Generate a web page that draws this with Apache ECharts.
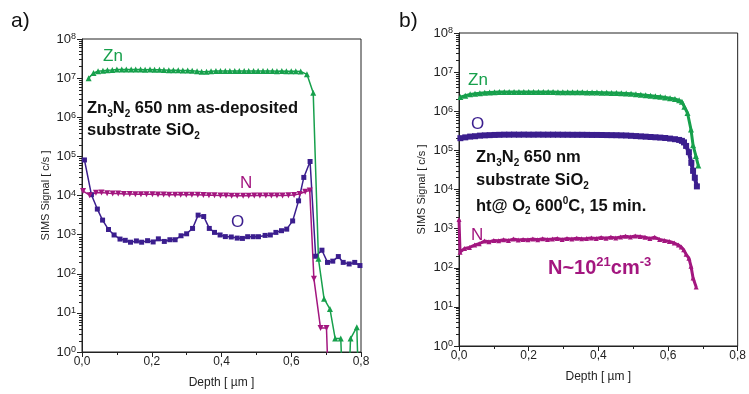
<!DOCTYPE html>
<html>
<head>
<meta charset="utf-8">
<script src="https://cdn.jsdelivr.net/npm/echarts@6/dist/echarts.min.js"></script>
<style>
  html, body { margin: 0; padding: 0; background: #fff; }
  #chart { width: 749px; height: 394px; }
</style>
</head>
<body>
<div id="chart"></div>
<script>
  // panel a) as-deposited : [depth um, signal c/s]
  var aZn = [[0.019,1.0e7],[0.033,1.35e7],[0.046,1.5e7],[0.060,1.55e7],[0.073,1.6e7],[0.087,1.62e7],[0.100,1.65e7],[0.114,1.65e7],
    [0.127,1.66e7],[0.141,1.65e7],[0.154,1.66e7],[0.168,1.65e7],[0.181,1.64e7],[0.195,1.65e7],[0.208,1.64e7],[0.222,1.63e7],
    [0.235,1.62e7],[0.249,1.6e7],[0.262,1.6e7],[0.276,1.58e7],[0.289,1.57e7],[0.303,1.56e7],[0.316,1.55e7],[0.330,1.5e7],
    [0.343,1.45e7],[0.357,1.45e7],[0.370,1.5e7],[0.384,1.52e7],[0.397,1.52e7],[0.411,1.53e7],[0.424,1.52e7],[0.438,1.53e7],
    [0.451,1.52e7],[0.465,1.52e7],[0.478,1.53e7],[0.492,1.52e7],[0.505,1.52e7],[0.519,1.51e7],[0.532,1.52e7],[0.546,1.51e7],
    [0.559,1.5e7],[0.573,1.51e7],[0.586,1.5e7],[0.600,1.5e7],[0.613,1.5e7],[0.627,1.48e7],[0.645,1.25e7],[0.663,4.2e6],
    [0.678,240],[0.694,23],[0.711,12.5],[0.726,2.2],[0.742,2.2],[0.756,0.001],[0.770,2.2],[0.788,4.3],[0.800,0.001]];
  var aO = [[0.007,8.1e4],[0.027,1.05e4],[0.044,4.5e3],[0.059,2.35e3],[0.076,1.35e3],[0.092,980],[0.109,770],[0.124,715],
    [0.139,640],[0.156,690],[0.171,640],[0.188,700],[0.204,650],[0.219,780],[0.236,670],[0.252,740],[0.267,740],[0.284,935],
    [0.300,1050],[0.317,1440],[0.333,3150],[0.349,2900],[0.365,1440],[0.380,1140],[0.396,980],[0.411,890],[0.428,870],
    [0.445,815],[0.460,800],[0.475,885],[0.491,885],[0.506,885],[0.525,955],[0.540,980],[0.556,1140],[0.572,1260],[0.587,1380],
    [0.604,2240],[0.621,7300],[0.636,2.9e4],[0.654,7.4e4],[0.670,280],[0.688,400],[0.704,195],[0.719,210],[0.735,275],
    [0.749,195],[0.766,178],[0.782,195],[0.797,162]];
  var aN = [[0.003,1.3e4],[0.022,1.02e4],[0.040,1.18e4],[0.056,1.2e4],[0.072,1.15e4],[0.088,1.12e4],[0.104,1.12e4],[0.120,1.1e4],
    [0.137,1.1e4],[0.153,1.08e4],[0.169,1.08e4],[0.185,1.07e4],[0.202,1.07e4],[0.218,1.06e4],[0.234,1.06e4],[0.250,1.05e4],
    [0.267,1.05e4],[0.283,1.05e4],[0.299,1.04e4],[0.315,1.04e4],[0.332,1.05e4],[0.348,1.03e4],[0.364,1.02e4],[0.380,1.01e4],
    [0.397,1.0e4],[0.413,1.0e4],[0.429,9.9e3],[0.445,9.9e3],[0.462,9.9e3],[0.478,9.9e3],[0.494,1.0e4],[0.510,1.0e4],
    [0.527,1.0e4],[0.543,1.0e4],[0.559,1.0e4],[0.575,1.0e4],[0.592,1.01e4],[0.608,1.03e4],[0.624,1.1e4],[0.640,1.25e4],
    [0.653,1.35e4],[0.665,74],[0.684,4.1],[0.701,4.1],[0.715,0.001]];

  // panel b) after ht in O2 600C
  var bZn = [[0.004,2.3e6],[0.018,2.5e6],[0.032,2.7e6],[0.046,2.8e6],[0.060,2.9e6],[0.074,2.95e6],[0.088,3.0e6],[0.102,3.05e6],
    [0.116,3.1e6],[0.130,3.1e6],[0.144,3.1e6],[0.158,3.12e6],[0.172,3.1e6],[0.186,3.12e6],[0.200,3.1e6],[0.214,3.1e6],
    [0.228,3.12e6],[0.242,3.1e6],[0.256,3.1e6],[0.270,3.1e6],[0.284,3.08e6],[0.298,3.08e6],[0.312,3.06e6],[0.326,3.05e6],
    [0.340,3.05e6],[0.354,3.04e6],[0.368,3.02e6],[0.382,3.0e6],[0.396,3.0e6],[0.410,2.98e6],[0.424,2.96e6],[0.438,2.94e6],
    [0.452,2.92e6],[0.466,2.9e6],[0.480,2.85e6],[0.494,2.8e6],[0.508,2.72e6],[0.522,2.65e6],[0.536,2.58e6],[0.550,2.5e6],
    [0.564,2.42e6],[0.578,2.35e6],[0.592,2.25e6],[0.606,2.15e6],[0.620,2.05e6],[0.632,1.9e6],[0.640,1.75e6],[0.647,1.3e6],
    [0.656,9e5],[0.666,3.4e5],[0.672,1.35e5],[0.680,7.2e4],[0.687,4.1e4]];
  var bO = [[0.004,2.05e5],[0.018,2.15e5],[0.032,2.25e5],[0.046,2.3e5],[0.060,2.38e5],[0.074,2.42e5],[0.088,2.45e5],[0.102,2.48e5],
    [0.116,2.5e5],[0.130,2.52e5],[0.144,2.52e5],[0.158,2.53e5],[0.172,2.52e5],[0.186,2.53e5],[0.200,2.52e5],[0.214,2.52e5],
    [0.228,2.53e5],[0.242,2.52e5],[0.256,2.52e5],[0.270,2.52e5],[0.284,2.52e5],[0.298,2.51e5],[0.312,2.51e5],[0.326,2.5e5],
    [0.340,2.5e5],[0.354,2.5e5],[0.368,2.49e5],[0.382,2.48e5],[0.396,2.48e5],[0.410,2.47e5],[0.424,2.46e5],[0.438,2.45e5],
    [0.452,2.44e5],[0.466,2.42e5],[0.480,2.4e5],[0.494,2.36e5],[0.508,2.32e5],[0.522,2.28e5],[0.536,2.24e5],[0.550,2.2e5],
    [0.564,2.16e5],[0.578,2.12e5],[0.592,2.07e5],[0.606,2.0e5],[0.620,1.93e5],[0.632,1.85e5],[0.640,1.75e5],[0.646,1.6e5],
    [0.652,1.3e5],[0.660,9e4],[0.667,4.8e4],[0.672,3e4],[0.677,2e4],[0.683,1.2e4]];
  var bN = [[0.000,1700],[0.003,250],[0.016,310],[0.030,330],[0.045,380],[0.058,410],[0.073,480],[0.086,460],[0.100,500],
    [0.114,490],[0.128,520],[0.142,500],[0.156,540],[0.170,510],[0.184,530],[0.198,520],[0.212,540],[0.226,520],[0.240,550],
    [0.254,530],[0.268,540],[0.282,560],[0.296,530],[0.310,560],[0.324,540],[0.338,570],[0.352,550],[0.366,560],[0.380,580],
    [0.394,560],[0.408,590],[0.422,570],[0.436,600],[0.450,580],[0.464,610],[0.478,640],[0.492,610],[0.506,650],[0.520,630],
    [0.534,600],[0.548,560],[0.562,600],[0.576,530],[0.590,500],[0.604,470],[0.618,430],[0.630,380],[0.638,340],[0.645,290],
    [0.652,220],[0.660,175],[0.666,110],[0.672,55],[0.681,32]];

  var ZN = '#17a04c', OX = '#3b1e8e', NI = '#a3167f';
  var F = '"Liberation Sans", Arial, sans-serif';

  // log10 positions of the 2..9 minor ticks of each decade
  var minorVals = [];
  for (var d = 0; d < 8; d++) {
    for (var k = 2; k < 10; k++) minorVals.push(d + Math.log10(k));
  }

  var boxA = { left: 82, top: 39, width: 279, height: 314 };
  var boxB = { left: 459, top: 33, width: 280, height: 313 };

  function xAx(gi) {
    return {
      gridIndex: gi, type: 'value', min: 0, max: 0.8, interval: 0.2,
      name: 'Depth [ \u00b5m ]', nameLocation: 'middle', nameGap: 25,
      nameTextStyle: { fontFamily: F, fontSize: 12, color: '#222' },
      axisLine: { lineStyle: { color: '#222', width: 1 } },
      axisTick: { length: 5, lineStyle: { color: '#222' } },
      minorTick: { show: true, splitNumber: 2, length: 3, lineStyle: { color: '#222' } },
      axisLabel: { margin: 4, fontFamily: F, fontSize: 12, color: '#222',
        formatter: function (v) { return v.toFixed(1).replace('.', ','); } },
      splitLine: { show: false }
    };
  }
  function xHidden(gi) {
    return { gridIndex: gi, type: 'value', min: 0, max: 0.8, show: false };
  }
  function yAx(gi, gap) {
    return {
      gridIndex: gi, type: 'log', logBase: 10, min: 1, max: 1e8, splitNumber: 8, position: 'left',
      name: 'SIMS Signal [ c/s ]', nameLocation: 'middle', nameGap: gap,
      nameTextStyle: { fontFamily: F, fontSize: 11, color: '#222' },
      axisLine: { show: true, lineStyle: { color: '#222', width: 1 } },
      axisTick: { length: 5, lineStyle: { color: '#222' } },
      axisLabel: { margin: 6, fontFamily: F, color: '#222',
        formatter: function (v) { return '{n|10}{sup|' + Math.round(Math.log10(v)) + '}'; },
        rich: {
          n: { fontFamily: F, fontSize: 13, color: '#222' },
          sup: { fontFamily: F, fontSize: 9, color: '#222', verticalAlign: 'top', lineHeight: 9 }
        } },
      splitLine: { show: false }
    };
  }
  // minor ticks sit on an overlay grid of the same size
  function yMinor(gi) {
    return {
      gridIndex: gi, type: 'value', min: 0, max: 8, position: 'left',
      axisLine: { show: false }, axisLabel: { show: false }, splitLine: { show: false },
      axisTick: { show: true, length: 3, customValues: minorVals, lineStyle: { color: '#222' } }
    };
  }
  function ser(data, xi, yi, sym, color, size, rot, lw) {
    return {
      type: 'line', xAxisIndex: xi, yAxisIndex: yi, data: data,
      symbol: sym, symbolSize: size, symbolRotate: rot, showAllSymbol: true,
      lineStyle: { color: color, width: lw }, itemStyle: { color: color },
      animation: false, clip: true
    };
  }
  function txt(x, y, s, rich, fill) {
    return { type: 'text', left: x, top: y, style: { text: s, rich: rich, fill: fill, fontFamily: F } };
  }
  function boldRich(size, sub) {
    return {
      m: { fontFamily: F, fontSize: size, fontWeight: 'bold', lineHeight: size + 4 },
      s: { fontFamily: F, fontSize: sub, fontWeight: 'bold', verticalAlign: 'bottom', lineHeight: sub },
      p: { fontFamily: F, fontSize: sub, fontWeight: 'bold', verticalAlign: 'top', lineHeight: sub }
    };
  }
  function plain(size) {
    return { m: { fontFamily: F, fontSize: size } };
  }

  var chart = echarts.init(document.getElementById('chart'));
  chart.setOption({
    animation: false,
    grid: [
      Object.assign({ show: true, borderColor: '#222', borderWidth: 1 }, boxA),
      Object.assign({ show: true, borderColor: '#222', borderWidth: 1 }, boxB),
      Object.assign({ show: false }, boxA),
      Object.assign({ show: false }, boxB)
    ],
    xAxis: [xAx(0), xAx(1), xHidden(2), xHidden(3)],
    yAxis: [yAx(0, 31), yAx(1, 32), yMinor(2), yMinor(3)],
    series: [
      ser(aO, 0, 0, 'rect', OX, 5, 0, 1.5),
      ser(aN, 0, 0, 'triangle', NI, 6, 180, 1.5),
      ser(aZn, 0, 0, 'triangle', ZN, 6, 0, 1.5),
      ser(bZn, 1, 1, 'triangle', ZN, 6, 0, 3),
      ser(bO, 1, 1, 'rect', OX, 6, 0, 4),
      ser(bN, 1, 1, 'triangle', NI, 5, 0, 3)
    ],
    graphic: [
      txt(11, 11, '{m|a)}', plain(21), '#111'),
      txt(399, 11, '{m|b)}', plain(21), '#111'),
      txt(103, 48, '{m|Zn}', plain(17), ZN),
      txt(240, 175, '{m|N}', plain(17), NI),
      txt(231, 214, '{m|O}', plain(17), OX),
      txt(87, 100, '{m|Zn}{s|3}{m|N}{s|2}{m| 650 nm as-deposited}', boldRich(16.5, 10), '#111'),
      txt(87, 122, '{m|substrate SiO}{s|2}', boldRich(16.5, 10), '#111'),
      txt(468, 72, '{m|Zn}', plain(17), ZN),
      txt(471, 116, '{m|O}', plain(17), OX),
      txt(476, 149, '{m|Zn}{s|3}{m|N}{s|2}{m| 650 nm}', boldRich(16.5, 10), '#111'),
      txt(476, 172, '{m|substrate SiO}{s|2}', boldRich(16.5, 10), '#111'),
      txt(476, 196, '{m|ht@ O}{s|2}{m| 600}{p|0}{m|C, 15 min.}', boldRich(16.5, 10), '#111'),
      txt(471, 227, '{m|N}', plain(17), NI),
      txt(548, 256, '{m|N~10}{p|21}{m|cm}{p|-3}', boldRich(20, 13), NI)
    ]
  });
</script>
</body>
</html>
